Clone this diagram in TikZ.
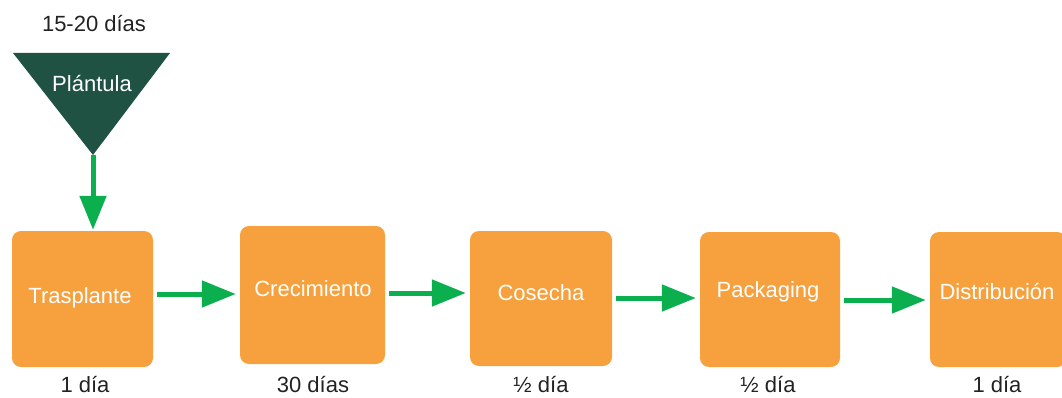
\documentclass[tikz,border=0pt]{standalone}
\usepackage{fontspec}
\setmainfont{Liberation Sans}
\usetikzlibrary{arrows.meta}
\definecolor{boxorange}{HTML}{F6A13D}
\definecolor{arrowgreen}{HTML}{0BAF4D}
\definecolor{darkgreen}{HTML}{1F5242}
\definecolor{labelgray}{HTML}{222222}
\tikzset{
  stepbox/.style={fill=boxorange, rounded corners=9pt, inner sep=0pt},
  boxtext/.style={text=white, inner sep=0pt, font=\fontsize{22}{25}\selectfont},
  flow/.style={draw=arrowgreen, line width=5pt,
    -{Triangle[length=34pt,width=26pt]}, shorten >=4pt, shorten <=4pt},
  daylabel/.style={text=labelgray, font=\fontsize{22}{25}\selectfont, inner sep=0pt},
}
\begin{document}
\begin{tikzpicture}[x=1pt,y=-1pt]
\useasboundingbox (0,0) rectangle (1062,398);
\clip (0,0) rectangle (1062,398);
% triangle
\coordinate (tl) at (13,53);
\coordinate (tr) at (170,53);
\coordinate (tip) at (93,155);
\fill[darkgreen] (tl) -- (tr) -- (tip) -- cycle;
\node[boxtext] (plantula) at (92,84) {Plántula};
\node[daylabel] (l0) at (94,24) {15-20 días};
% boxes
\node[stepbox, minimum width=141pt, minimum height=136pt] (b1) at (82.5,299) {};
\node[stepbox, minimum width=145pt, minimum height=138pt] (b2) at (312.5,295) {};
\node[stepbox, minimum width=142pt, minimum height=135pt] (b3) at (541,298.5) {};
\node[stepbox, minimum width=140pt, minimum height=135pt] (b4) at (770,299.5) {};
\node[stepbox, minimum width=136pt, minimum height=135pt] (b5) at (998,299.5) {};
\node[boxtext] (t1) at (80,298) {Trasplante};
\node[boxtext] (t2) at (313,289) {Crecimiento};
\node[boxtext] (t3) at (541,293) {Cosecha};
\node[boxtext] (t4) at (768,292) {Packaging};
\node[boxtext] (t5) at (997,292) {Distribución};
% labels
\node[daylabel] (l1) at (85,385) {1 día};
\node[daylabel] (l2) at (313,385) {30 días};
\node[daylabel] (l3) at (541,385) {½ día};
\node[daylabel] (l4) at (768,385) {½ día};
\node[daylabel] (l5) at (997,385) {1 día};
% arrows
\draw[flow, shorten <=0pt, shorten >=1pt] (tip) -- (tip |- b1.north);
\draw[flow] (b1.east |- 0,294) -- (b2.west |- 0,294);
\draw[flow] (b2.east |- 0,293) -- (b3.west |- 0,293);
\draw[flow] (b3.east |- 0,298) -- (b4.west |- 0,298);
\draw[flow] (b4.east |- 0,300) -- (b5.west |- 0,300);
\end{tikzpicture}
\end{document}
